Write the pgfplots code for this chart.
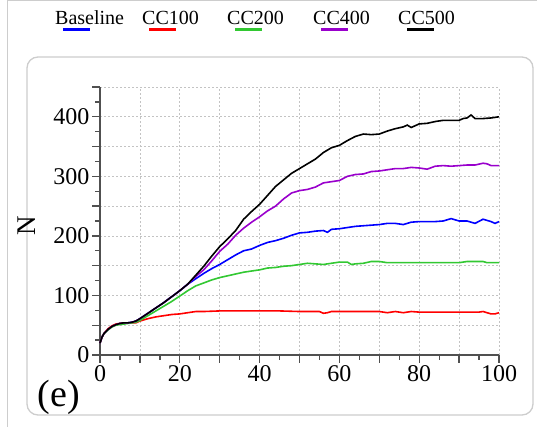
\documentclass[border=0pt]{standalone}
\usepackage{pgfplots}
\pgfplotsset{compat=1.18}
\usepackage{fontspec}
\setmainfont{Liberation Serif}
\definecolor{cblue}{RGB}{0,0,255}
\definecolor{cred}{RGB}{255,0,0}
\definecolor{cgreen}{RGB}{50,200,50}
\definecolor{cpurple}{RGB}{153,0,204}
\definecolor{axgray}{RGB}{80,80,80}
\definecolor{gridgray}{RGB}{195,195,195}
\definecolor{framegray}{RGB}{205,205,205}
\begin{document}
\begin{tikzpicture}[x=1pt,y=1pt]
\useasboundingbox (0,0) rectangle (537,427);
\draw[framegray, line width=1pt] (7,0) -- (7,427);
\draw[framegray, line width=0.8pt] (7,426.6) -- (537,426.6);
\draw[framegray, line width=1.3pt, rounded corners=11pt] (27,12) rectangle (533,370);
\begin{axis}[
  at={(100pt,72pt)}, anchor=south west, scale only axis,
  width=399pt, height=268pt,
  xmin=0, xmax=100, ymin=0, ymax=450,
  axis x line*=bottom, axis y line*=left,
  axis line style={line width=1.5pt, color=axgray, -},
  xtick={0,10,...,100}, xticklabels={0,,20,,40,,60,,80,,100},
  ytick={0,50,...,450}, yticklabels={0,,100,,200,,300,,400,},
  minor x tick num=1, minor y tick num=1,
  tick align=outside,
  major tick length=8pt, minor tick length=5pt,
  every tick/.style={line width=1.3pt, color=axgray},
  grid=major,
  major grid style={gridgray, line width=0.7pt, dash pattern=on 2pt off 2pt},
  /pgf/number format/assume math mode=true,
  ticklabel style={font=\fontsize{24}{24}\selectfont, text=black},
  xticklabel style={yshift=1pt},
  yticklabel style={xshift=1pt},
  ylabel={N},
  ylabel style={font=\fontsize{27}{27}\selectfont, at={(axis description cs:-0.183,0.481)}, anchor=center},
  every axis plot/.append style={line width=1.6pt},
  clip=false,
]
\addplot[cblue] coordinates {
(0,20)(0.5,30)(1,36)(2,43)(3,48)(4,51)(5,53)(6,54)(7,54)(8,55)(9,57)(10,61)(12,70)(14,79)(16,88)(18,98)(20,108)(22,119)
(24,128)(26,137)(28,145)(30,152)(32,160)(34,168)(36,175)(38,178)(40,184)(42,189)(44,192)(46,196)(48,201)(50,205)
(52,206)(54,208)(56,209)(57,206)(58,211)(60,212)(62,214)(64,216)(66,217)(68,218)(70,219)(72,221)(74,221)(76,219)
(78,223)(80,224)(82,224)(84,224)(86,225)(88,229)(90,225)(92,225)(94,221)(96,228)(98,224)(99,221)(100,224)
};
\addplot[cred] coordinates {
(0,20)(0.5,30)(1,36)(2,44)(3,49)(4,52)(5,53)(6,54)(7,54)(8,54)(9,54)(10,57)(12,61)(14,64)(16,66)(18,68)(20,69)(22,71)
(24,73)(26,73)(30,74)(40,74)(45,74)(50,73)(55,73)(56,70)(57,71)(58,73)(70,73)(72,71)(74,73)(76,71)(78,73)(80,72)
(90,72)(95,72)(96,73)(97,71)(98,69)(99,69)(100,71)
};
\addplot[cgreen] coordinates {
(0,20)(0.5,30)(1,36)(2,42)(3,47)(4,50)(5,51)(6,52)(7,53)(8,54)(9,55)(10,58)(12,66)(14,74)(16,82)(18,90)(20,99)(22,108)
(24,116)(26,121)(28,126)(30,130)(32,133)(34,136)(36,139)(38,141)(40,143)(42,146)(44,147)(46,149)(48,150)(50,152)
(52,154)(54,153)(56,152)(58,154)(60,156)(62,156)(63,152)(64,153)(66,154)(68,157)(70,157)(72,155)(80,155)(90,155)
(92,157)(96,157)(97,155)(100,155)
};
\addplot[cpurple] coordinates {
(0,20)(0.5,30)(1,36)(2,43)(3,48)(4,51)(5,53)(6,54)(7,54)(8,55)(9,57)(10,61)(12,70)(14,79)(16,88)(18,98)(20,108)(22,119)
(24,132)(26,143)(28,158)(30,174)(32,186)(34,201)(36,213)(38,223)(40,232)(42,242)(44,250)(46,262)(48,272)(50,276)
(52,278)(54,282)(56,289)(58,291)(60,293)(62,300)(64,303)(66,304)(68,308)(70,309)(72,311)(74,313)(76,313)(78,315)
(80,314)(82,312)(84,317)(86,318)(88,317)(90,318)(92,319)(94,319)(96,322)(97,321)(98,318)(100,318)
};
\addplot[black] coordinates {
(0,20)(0.5,30)(1,36)(2,43)(3,48)(4,51)(5,53)(6,54)(7,54)(8,55)(9,57)(10,61)(12,70)(14,79)(16,88)(18,98)(20,108)(22,119)
(24,134)(26,149)(28,166)(30,182)(32,195)(34,209)(36,228)(38,241)(40,253)(42,268)(44,283)(46,294)(48,305)(50,313)
(52,321)(54,329)(56,340)(58,348)(60,352)(62,360)(64,367)(66,371)(68,370)(70,371)(72,376)(74,380)(76,383)(77,386)
(78,382)(80,388)(82,389)(84,392)(86,394)(88,394)(90,394)(91,397)(92,398)(93,403)(94,397)(96,397)(98,398)(100,400)
};
\end{axis}
\node[font=\fontsize{38}{38}\selectfont] at (59,30) {(e)};
% legend
\begin{scope}[every node/.style={font=\fontsize{20}{20}\selectfont, anchor=base west, inner sep=0pt}]
\node at (55,402) {Baseline};
\draw[cblue, line width=3pt] (63,397) -- (90,397);
\node at (142,402) {CC100};
\draw[cred, line width=3pt] (149,397) -- (176,397);
\node at (227,402) {CC200};
\draw[cgreen, line width=3pt] (235,397) -- (262,397);
\node at (313,402) {CC400};
\draw[cpurple, line width=3pt] (321,397) -- (348,397);
\node at (398,402) {CC500};
\draw[black, line width=3pt] (407,397) -- (434,397);
\end{scope}
\end{tikzpicture}
\end{document}
